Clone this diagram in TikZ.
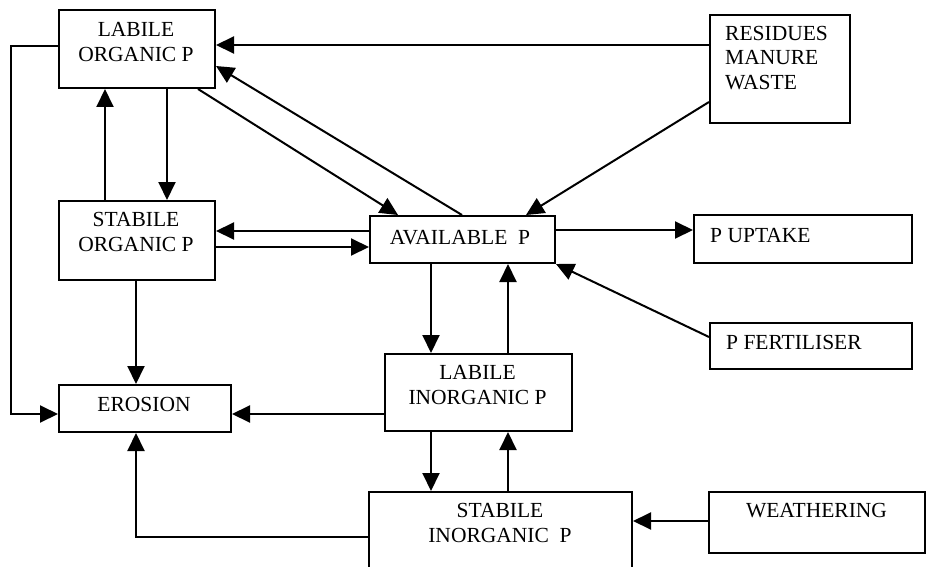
\documentclass[tikz,border=0pt]{standalone}
\usepackage{fontspec}
\setmainfont{Liberation Serif}
\usetikzlibrary{arrows.meta}
\begin{document}
\begin{tikzpicture}[x=1pt,y=-1pt,
  box/.style={draw,line width=2pt,inner sep=0pt,anchor=north west},
  txt/.style={inner sep=0pt,align=center,font=\fontsize{21.5}{25.5}\selectfont},
  txtl/.style={inner sep=0pt,align=left,anchor=north west,font=\fontsize{21.5}{24.5}\selectfont},
  arr/.style={line width=2pt,-{Triangle[length=18pt,width=17pt]}}]
\useasboundingbox (0,0) rectangle (926,567);
% boxes
\node[box,minimum width=156pt,minimum height=78pt] (lop) at (58,9) {};
\node[box,minimum width=140pt,minimum height=108pt] (res) at (709,14) {};
\node[box,minimum width=156pt,minimum height=79pt] (sop) at (58,200) {};
\node[box,minimum width=185pt,minimum height=47pt] (av) at (369,215) {};
\node[box,minimum width=218pt,minimum height=48pt] (up) at (693,214) {};
\node[box,minimum width=202pt,minimum height=46pt] (fert) at (709,322) {};
\node[box,minimum width=172pt,minimum height=47pt] (er) at (58,384) {};
\node[box,minimum width=187pt,minimum height=77pt] (lip) at (384,353) {};
\node[box,minimum width=263pt,minimum height=85pt] (stip) at (368,491) {};
\node[box,minimum width=216pt,minimum height=61pt] (wea) at (708,491) {};
% texts
\node[txt,anchor=north] (lopt) at (136,22) {LABILE\\ORGANIC P};
\node[txtl] (rest) at (725,26) {RESIDUES\\MANURE\\WASTE};
\node[txt,anchor=north] (sopt) at (136,212) {STABILE\\ORGANIC P};
\node[txt,anchor=north] (avt) at (460,230) {AVAILABLE\ \ P};
\node[txtl] (upt) at (710,228) {P UPTAKE};
\node[txtl] (fertt) at (726,335) {P FERTILISER};
\node[txt,anchor=north] (ert) at (144,397) {EROSION};
\node[txt,anchor=north] (lipt) at (477.5,365) {LABILE\\INORGANIC P};
\node[txt,anchor=north] (stipt) at (500,503) {STABILE\\INORGANIC\ \ P};
\node[txt,anchor=north] (weat) at (816.5,503) {WEATHERING};
% connectors
\draw[arr] (res.west |- 0,45) -- (lop.east |- 0,45);
\draw[arr] (lop.west |- 0,46) -| (11,414) -- (er.west |- 0,414);
\draw[arr] (462,0 |- av.north) -- (216,66);
\draw[arr] (198,0 |- lop.south) -- (398,0 |- av.north);
\draw[arr] (167,0 |- lop.south) -- (167,0 |- sop.north);
\draw[arr] (105,0 |- sop.north) -- (105,0 |- lop.south);
\draw[arr] (av.west |- 0,231) -- (sop.east |- 0,231);
\draw[arr] (sop.east |- 0,247) -- (av.west |- 0,247);
\draw[arr] (136,0 |- sop.south) -- (136,0 |- er.north);
\draw[arr] (res.west |- 0,102) -- (526,0 |- av.north);
\draw[arr] (av.east |- 0,230) -- (up.west |- 0,230);
\draw[arr] (fert.west |- 0,337) -- (av.south east);
\draw[arr] (431,0 |- av.south) -- (431,0 |- lip.north);
\draw[arr] (508,0 |- lip.north) -- (508,0 |- av.south);
\draw[arr] (lip.west |- 0,414) -- (er.east |- 0,414);
\draw[arr] (431,0 |- lip.south) -- (431,0 |- stip.north);
\draw[arr] (508,0 |- stip.north) -- (508,0 |- lip.south);
\draw[arr] (stip.west |- 0,537) -| (136,0 |- er.south);
\draw[arr] (wea.west |- 0,521) -- (stip.east |- 0,521);
\end{tikzpicture}
\end{document}
